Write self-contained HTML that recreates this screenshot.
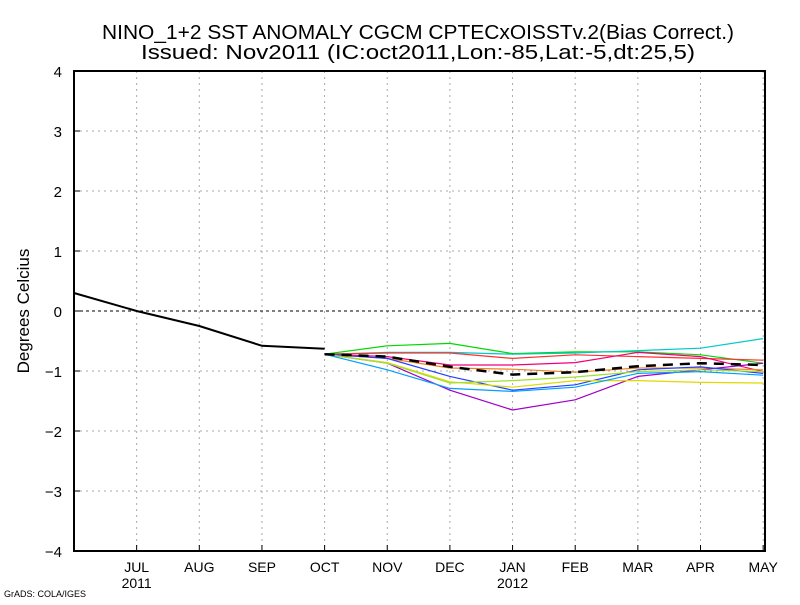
<!DOCTYPE html>
<html><head><meta charset="utf-8"><style>
html,body{margin:0;padding:0;background:#fff;}
svg text{font-family:"Liberation Sans",sans-serif;}
</style></head><body>
<svg id="chart" width="800" height="600" xmlns="http://www.w3.org/2000/svg">
<rect width="800" height="600" fill="#fff"/>
<text x="418" y="39" font-size="20" text-anchor="middle" textLength="632" lengthAdjust="spacingAndGlyphs">NINO_1+2 SST ANOMALY CGCM CPTECxOISSTv.2(Bias Correct.)</text>
<text x="418" y="59" font-size="20" text-anchor="middle" textLength="554" lengthAdjust="spacingAndGlyphs">Issued:  Nov2011 (IC:oct2011,Lon:-85,Lat:-5,dt:25,5)</text>
<text transform="translate(29,311) rotate(-90)" font-size="17" text-anchor="middle">Degrees Celcius</text>
<text x="4" y="597" font-size="9">GrADS: COLA/IGES</text>
<g id="grid"></g><g id="series"></g><g id="axes"></g>
</svg>
<script>
const months=["JUN","JUL","AUG","SEP","OCT","NOV","DEC","JAN","FEB","MAR","APR","MAY"];
const yTicks=[-4,-3,-2,-1,0,1,2,3,4];
const observed=[0.3,0.0,-0.25,-0.58,-0.63];
const memberColors=["#00d800","#00c8c8","#ff3030","#f0007a","#f08020","#a000c8","#2040ff","#e0d800","#a0e030","#00a0ff"];
const m1=[-0.72,-0.58,-0.54,-0.71,-0.68,-0.68,-0.73,-0.87];
const m2=[-0.72,-0.69,-0.69,-0.72,-0.70,-0.66,-0.62,-0.46];
const m3=[-0.72,-0.70,-0.70,-0.79,-0.73,-0.76,-0.79,-0.82];
const m4=[-0.72,-0.76,-0.90,-0.90,-0.86,-0.69,-0.76,-1.01];
const m5=[-0.72,-0.79,-0.95,-0.97,-1.02,-0.95,-0.95,-0.98];
const m6=[-0.72,-0.87,-1.32,-1.65,-1.48,-1.09,-0.98,-0.87];
const m7=[-0.72,-0.79,-1.09,-1.32,-1.23,-0.98,-0.93,-1.04];
const m8=[-0.72,-0.86,-1.18,-1.27,-1.16,-1.16,-1.19,-1.20];
const m9=[-0.72,-0.87,-1.20,-1.16,-1.10,-1.01,-0.98,-1.01];
const m10=[-0.72,-0.98,-1.29,-1.34,-1.27,-1.04,-1.01,-1.07];
const ensMean=[-0.72,-0.76,-0.93,-1.06,-1.02,-0.92,-0.87,-0.90];
const members=[m1,m2,m3,m4,m5,m6,m7,m8,m9,m10];
const NS="http://www.w3.org/2000/svg";
const X0=74,DX=62.65,Y0=311,DY=60;
const xs=i=>X0+i*DX, ys=v=>Y0-v*DY;
function mk(t,a,p){const e=document.createElementNS(NS,t);for(const k in a)e.setAttribute(k,a[k]);p.appendChild(e);return e;}
const grid=document.getElementById('grid'),ser=document.getElementById('series'),ax=document.getElementById('axes');
months.forEach((m,i)=>{if(i===0)return;
 const g=mk('line',{x1:xs(i),x2:xs(i),y1:71,y2:551,stroke:'#aaa','stroke-dasharray':'2,4'},grid);
 
 const t=mk('text',{x:xs(i),y:572,'font-size':14,'text-anchor':'middle'},ax);t.textContent=m;
 
 mk('line',{x1:xs(i),x2:xs(i),y1:551,y2:545,stroke:'#000'},ax);
});
[["2011",1],["2012",7]].forEach(([s,i])=>{const t=mk('text',{x:xs(i),y:588,'font-size':14,'text-anchor':'middle'},ax);t.textContent=s;
 });
yTicks.forEach(v=>{
 if(v>-4&&v<4){const g=mk('line',{x1:X0,x2:765,y1:ys(v),y2:ys(v),stroke:v===0?'#000':'#aaa','stroke-dasharray':v===0?'3,3':'2,4'},grid);
  }
 const t=mk('text',{x:62,y:ys(v)+6,'font-size':15,'text-anchor':'end'},ax);t.textContent=v<0?'\u2212'+(-v):String(v);
 
 mk('line',{x1:X0,x2:X0+6,y1:ys(v),y2:ys(v),stroke:'#000'},ax);
});
members.forEach((arr,k)=>{
 const p=mk('polyline',{points:arr.map((v,i)=>xs(i+4)+','+ys(v)).join(' '),fill:'none',stroke:memberColors[k],'stroke-width':1.2},ser);
 
});
const mean=mk('polyline',{points:ensMean.map((v,i)=>xs(i+4)+','+ys(v)).join(' '),fill:'none',stroke:'#000','stroke-width':2.5,'stroke-dasharray':'10,7'},ser);

const obs=mk('polyline',{points:observed.map((v,i)=>xs(i)+','+ys(v)).join(' '),fill:'none',stroke:'#000','stroke-width':2},ser);

const fr=mk('rect',{x:X0,y:71,width:765-X0,height:480,fill:'none',stroke:'#000','stroke-width':2},ax);

</script>
</body></html>
